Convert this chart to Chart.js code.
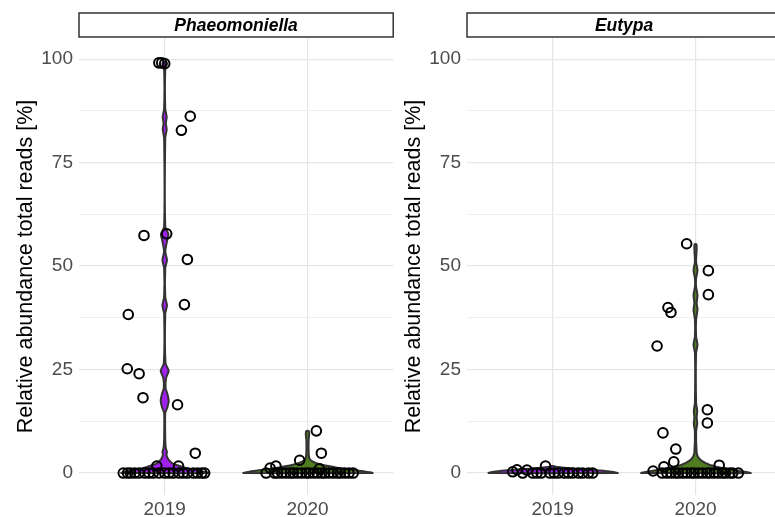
<!DOCTYPE html>
<html>
<head>
<meta charset="utf-8">
<script src="https://cdn.jsdelivr.net/npm/chart.js@4.4.1/dist/chart.umd.min.js"></script>
<style>
  html, body { margin: 0; padding: 0; background: #fff; }
  #wrap { position: relative; width: 775px; height: 517px; overflow: hidden; }
  canvas { position: absolute; top: 0; }
</style>
</head>
<body>
<div id="wrap">
  <canvas id="panel1" width="400" height="517" style="left:0px"></canvas>
  <canvas id="panel2" width="400" height="517" style="left:388px"></canvas>
</div>
<script>
const years = ['2019', '2020'];
const genera = ['Phaeomoniella', 'Eutypa'];
const yTicks = [0, 25, 50, 75, 100];
const yMinor = [12.5, 37.5, 62.5, 87.5];

// jittered samples: [jitter offset from year, relative abundance %]
const phaeo2019 = [
  [-0.041, 99.1], [-0.021, 99.1], [0, 98.9], [0.179, 86.2], [0.117, 82.8],
  [-0.145, 57.4], [0.014, 57.8], [0.159, 51.6], [0.138, 40.7], [-0.255, 38.3],
  [-0.262, 25.2], [-0.179, 24.0], [-0.152, 18.2], [0.090, 16.5], [0.214, 4.8],
  [-0.055, 1.7], [0.097, 1.7],
  [-0.29, 0], [-0.26, 0], [-0.24, 0], [-0.21, 0], [-0.18, 0], [-0.14, 0], [-0.11, 0],
  [-0.08, 0], [-0.04, 0], [0, 0], [0.03, 0], [0.06, 0], [0.10, 0], [0.13, 0],
  [0.16, 0], [0.20, 0], [0.23, 0], [0.26, 0], [0.28, 0]
];
const phaeo2020 = [
  [0.062, 10.2], [0.097, 4.8], [-0.055, 3.1], [-0.221, 1.7], [-0.262, 1.2], [0.083, 1.0],
  [-0.29, 0], [-0.23, 0], [-0.21, 0], [-0.18, 0], [-0.15, 0], [-0.12, 0], [-0.10, 0],
  [-0.07, 0], [-0.04, 0], [-0.01, 0], [0.01, 0], [0.04, 0], [0.07, 0], [0.10, 0],
  [0.12, 0], [0.15, 0], [0.18, 0], [0.21, 0], [0.23, 0], [0.26, 0], [0.29, 0], [0.32, 0]
];
const eutypa2019 = [
  [-0.28, 0.3], [-0.25, 0.8], [-0.18, 0.7], [-0.05, 1.7],
  [-0.21, 0], [-0.14, 0], [-0.11, 0], [-0.08, 0], [-0.02, 0], [0.01, 0], [0.04, 0],
  [0.08, 0], [0.11, 0], [0.14, 0], [0.18, 0], [0.21, 0], [0.25, 0], [0.28, 0]
];
const eutypa2020 = [
  [-0.062, 55.4], [0.090, 48.9], [0.090, 43.1], [-0.193, 40.0], [-0.172, 38.8],
  [-0.269, 30.7], [0.083, 15.3], [0.083, 12.1], [-0.228, 9.7], [-0.138, 5.8],
  [-0.152, 2.7], [0.166, 1.9], [-0.221, 1.5], [-0.297, 0.5], [-0.234, 0],
  [-0.20, 0], [-0.17, 0], [-0.14, 0], [-0.12, 0], [-0.09, 0], [-0.06, 0], [-0.03, 0],
  [-0.01, 0], [0.02, 0], [0.05, 0], [0.08, 0], [0.10, 0], [0.13, 0], [0.16, 0],
  [0.19, 0], [0.21, 0], [0.24, 0], [0.26, 0], [0.30, 0]
];

// violin outlines: [abundance %, half width in year units]
const phaeoViolin2019 = [
  [0, 0.310], [0.5, 0.248], [1, 0.179], [1.5, 0.124], [2, 0.076], [2.5, 0.048],
  [3.5, 0.022], [4.5, 0.012], [5, 0.016], [6, 0.008], [8, 0.004], [14.5, 0.004],
  [16, 0.020], [17.5, 0.028], [19, 0.020], [20.5, 0.006], [23, 0.010], [24.7, 0.028],
  [26.5, 0.006], [38.5, 0.004], [40.5, 0.016], [42.5, 0.004], [49.5, 0.004], [51.5, 0.016],
  [53.5, 0.004], [56, 0.016], [57.7, 0.026], [59.5, 0.004], [81, 0.004], [83, 0.014],
  [84.5, 0.008], [86, 0.014], [88, 0.004], [97.5, 0.004], [98.8, 0.016], [99.3, 0.010]
];
const phaeoViolin2020 = [
  [0, 0.455], [0.4, 0.40], [0.8, 0.31], [1.3, 0.207], [2, 0.103], [2.7, 0.041],
  [3.5, 0.014], [5, 0.008], [8, 0.008], [9.5, 0.012], [10.2, 0.008]
];
const eutypaViolin2019 = [
  [0, 0.455], [0.3, 0.414], [0.6, 0.331], [0.9, 0.221], [1.2, 0.103], [1.5, 0.021], [1.7, 0.008]
];
const eutypaViolin2020 = [
  [0, 0.386], [0.5, 0.310], [1, 0.228], [1.5, 0.152], [2, 0.097], [3, 0.041], [4, 0.016],
  [5, 0.008], [10, 0.004], [12, 0.012], [13.5, 0.008], [15, 0.012], [17, 0.004],
  [29, 0.004], [31, 0.014], [33, 0.004], [37, 0.004], [39.5, 0.014], [41, 0.008],
  [43, 0.014], [45, 0.004], [47, 0.004], [49, 0.014], [51, 0.004], [54, 0.008], [55.3, 0.006]
];

const yearFill = ['#a020f0', '#4f7d20'];
const FONT = "'Liberation Sans', Arial, sans-serif";

function pointsData(center, pts) {
  return pts.map(p => ({x: center + p[0], y: p[1]}));
}

function violinData(center, prof) {
  const left = prof.map(p => ({x: center - p[1], y: p[0]}));
  const right = prof.slice().reverse().map(p => ({x: center + p[1], y: p[0]}));
  const all = left.concat(right);
  all.push(left[0]);
  return all;
}

const stripPlugin = {
  id: 'strip',
  afterDraw(chart) {
    const ctx = chart.ctx;
    const a = chart.chartArea;
    ctx.save();
    ctx.fillStyle = '#fff';
    ctx.strokeStyle = '#333';
    ctx.lineWidth = 1.5;
    ctx.fillRect(a.left, 13, a.right - a.left, 24);
    ctx.strokeRect(a.left, 13, a.right - a.left, 24);
    ctx.fillStyle = '#000';
    ctx.font = "italic bold 17.5px " + FONT;
    ctx.textAlign = 'center';
    ctx.textBaseline = 'middle';
    ctx.fillText(chart.options.plugins.strip.text, (a.left + a.right) / 2, 26);
    ctx.restore();
  }
};

function makePanel(id, genus, pts19, pts20, vio19, vio20) {
  const violin = (prof, c, col) => ({
    type: 'line',
    data: violinData(c, prof),
    backgroundColor: col,
    borderColor: '#333333',
    borderWidth: 2,
    pointRadius: 0,
    fill: 'shape',
    tension: 0.2,
    order: 2
  });
  const dots = (pts, c) => ({
    type: 'scatter',
    data: pointsData(c, pts),
    pointRadius: 4.8,
    pointBorderWidth: 2,
    borderColor: '#000',
    backgroundColor: 'rgba(0,0,0,0)',
    order: 0
  });

  return new Chart(document.getElementById(id), {
    type: 'scatter',
    data: {
      datasets: [
        dots(pts19, 1), dots(pts20, 2),
        violin(vio19, 1, yearFill[0]), violin(vio20, 2, yearFill[1])
      ]
    },
    plugins: [stripPlugin],
    options: {
      responsive: false,
      animation: false,
      devicePixelRatio: 1,
      layout: { padding: { top: 38, right: 2, left: 0, bottom: 0 } },
      plugins: {
        legend: { display: false },
        tooltip: { enabled: false },
        strip: { text: genus }
      },
      scales: {
        x: {
          type: 'linear',
          min: 0.4,
          max: 2.6,
          afterBuildTicks: s => { s.ticks = [{value: 1}, {value: 2}]; },
          afterFit: s => { s.height = 22; },
          ticks: {
            callback: v => years[v - 1],
            color: '#4d4d4d',
            font: { family: FONT, size: 19 },
            padding: 3
          },
          grid: { color: '#e5e5e5', lineWidth: 1.2, drawTicks: false },
          border: { display: false }
        },
        y: {
          min: -5.3,
          max: 105.1,
          afterBuildTicks: s => {
            s.ticks = yTicks.concat(yMinor).sort((a, b) => a - b).map(v => ({value: v}));
          },
          afterFit: s => { s.width = 79; },
          ticks: {
            callback: v => (yTicks.includes(v) ? String(v) : ''),
            color: '#4d4d4d',
            font: { family: FONT, size: 19 },
            padding: 6
          },
          grid: {
            color: ctx => (yTicks.includes(ctx.tick.value) ? '#e5e5e5' : '#efefef'),
            lineWidth: ctx => (yTicks.includes(ctx.tick.value) ? 1.2 : 1),
            drawTicks: false
          },
          border: { display: false },
          title: {
            display: true,
            text: 'Relative abundance total reads [%]',
            color: '#000',
            font: { family: FONT, size: 21.5 },
            padding: { top: 13, bottom: 0 }
          }
        }
      }
    }
  });
}

makePanel('panel1', genera[0], phaeo2019, phaeo2020, phaeoViolin2019, phaeoViolin2020);
makePanel('panel2', genera[1], eutypa2019, eutypa2020, eutypaViolin2019, eutypaViolin2020);
</script>
</body>
</html>
